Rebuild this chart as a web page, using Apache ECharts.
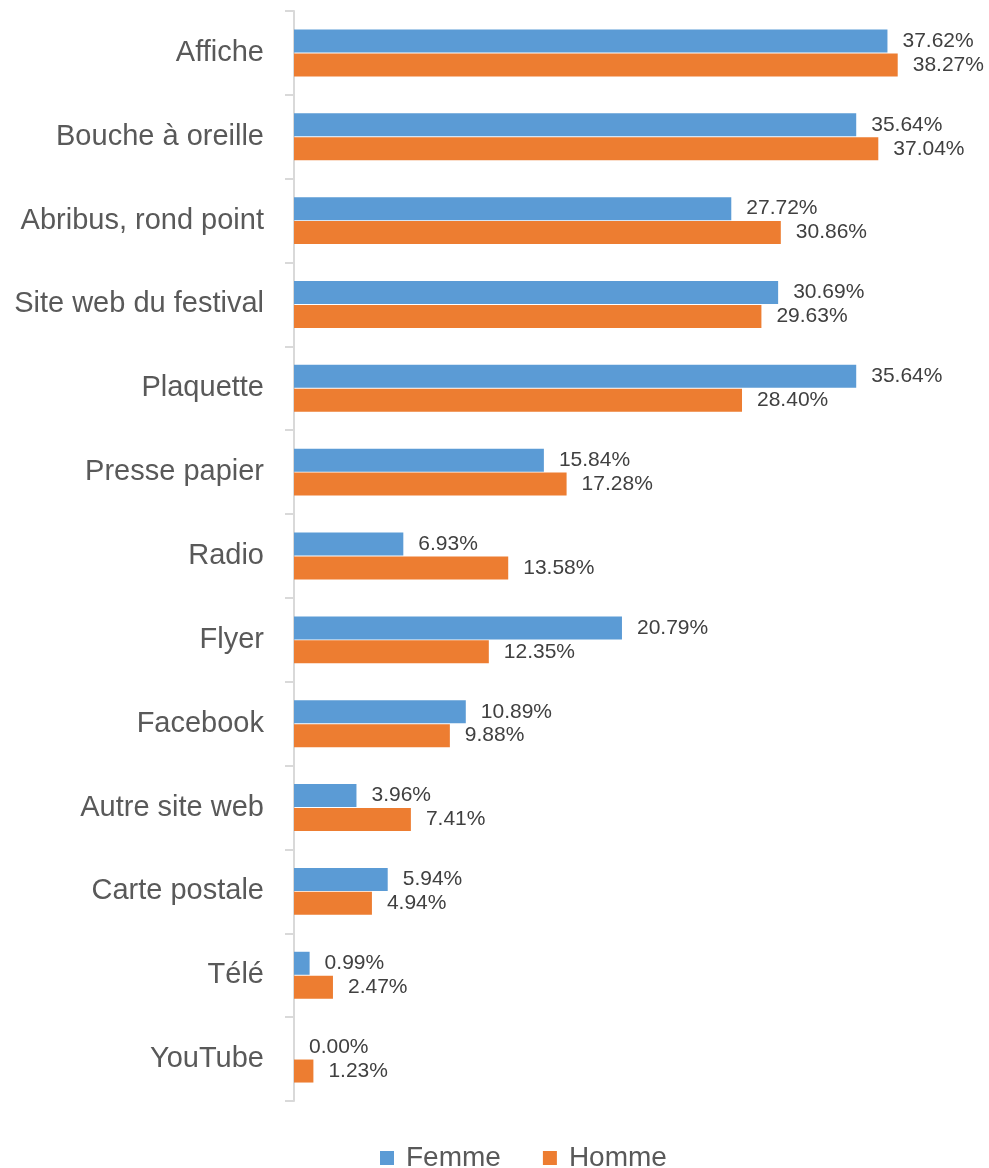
<!DOCTYPE html>
<html>
<head>
<meta charset="utf-8">
<script src="https://cdn.jsdelivr.net/npm/echarts@6/dist/echarts.min.js"></script>
<style>
html,body{margin:0;padding:0;background:#fff;}
#chart{width:989px;height:1168px;}
</style>
</head>
<body>
<div id="chart"></div>
<script>
const categories = ['Affiche','Bouche à oreille','Abribus, rond point','Site web du festival','Plaquette','Presse papier','Radio','Flyer','Facebook','Autre site web','Carte postale','Télé','YouTube'];
const femme = [37.62,35.64,27.72,30.69,35.64,15.84,6.93,20.79,10.89,3.96,5.94,0.99,0.00];
const homme = [38.27,37.04,30.86,29.63,28.40,17.28,13.58,12.35,9.88,7.41,4.94,2.47,1.23];
const seriesNames = ['Femme','Homme'];

const FONT = 'Liberation Sans';
const chart = echarts.init(document.getElementById('chart'), null, {renderer:'canvas'});
const labelCfg = {
  show: true, position: 'right', distance: 15,
  fontFamily: FONT, fontSize: 21, color: '#404040',
  formatter: p => p.value.toFixed(2) + '%'
};
chart.setOption({
  animation: false,
  backgroundColor: '#ffffff',
  grid: {left: 294, right: 64, top: 11, bottom: 67, containLabel: false},
  legend: {
    data: seriesNames,
    left: 380, top: 1144, padding: 0,
    itemWidth: 14, itemHeight: 14, itemGap: 42,
    icon: 'rect',
    textStyle: {fontFamily: FONT, fontSize: 28, color: '#595959', padding: [0,0,0,7]}
  },
  xAxis: {
    type: 'value', min: 0, max: 40, show: false,
    splitLine: {show: false}
  },
  yAxis: {
    type: 'category', data: categories, inverse: true,
    axisLine: {show: true, lineStyle: {color: '#d9d9d9', width: 2}},
    axisTick: {show: true, length: 9, lineStyle: {color: '#d9d9d9', width: 2}},
    axisLabel: {fontFamily: FONT, fontSize: 29, color: '#595959', margin: 30}
  },
  series: [
    {name: seriesNames[0], type: 'bar', data: femme, barWidth: 23, barGap: '4%',
     itemStyle: {color: '#5B9BD5'}, label: labelCfg},
    {name: seriesNames[1], type: 'bar', data: homme, barWidth: 23, barGap: '4%',
     itemStyle: {color: '#ED7D31'}, label: labelCfg}
  ]
});
</script>
</body>
</html>
